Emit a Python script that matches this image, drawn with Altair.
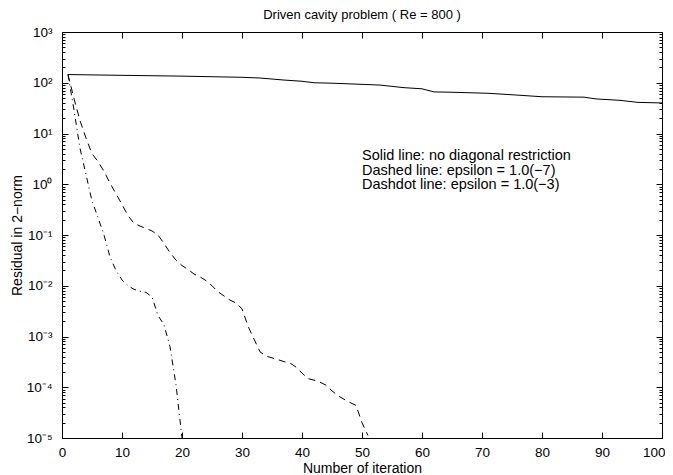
import altair as alt
import pandas as pd

# ---------------- data ----------------
iter_solid = [1, 10, 20, 30, 33, 37, 40, 42, 45, 50, 53, 57, 60, 62, 65, 71, 75, 80, 87, 89, 93, 96, 100]
res_solid = [145, 140, 135, 128, 124, 113, 107, 100, 98, 93, 90, 80, 76, 66, 65, 62, 58, 53, 52, 48, 45, 41, 40]

iter_dashed = list(range(1, 52))
res_dashed = [145, 49, 18, 8.1, 4.0, 2.8, 1.8, 1.05, 0.65, 0.40,
              0.24, 0.17, 0.15, 0.135, 0.12, 0.10, 0.068, 0.045, 0.032, 0.025,
              0.021, 0.017, 0.015, 0.0126, 0.010, 0.0076, 0.0063, 0.0052, 0.0046, 0.0035,
              0.0016, 0.00089, 0.0005, 0.00041, 0.00038, 0.00035, 0.00032, 0.00030, 0.00025, 0.00019,
              0.000148, 0.000138, 0.000126, 0.00011, 0.000085, 0.000068, 0.000058, 0.00005, 0.000044, 0.00002,
              0.0000112]

iter_dashdot = list(range(1, 21))
res_dashdot = [145, 29, 5.1, 1.55, 0.47, 0.22, 0.10, 0.037, 0.020, 0.013,
               0.010, 0.0085, 0.0078, 0.0074, 0.006, 0.0026, 0.0017, 0.00063, 0.000112, 0.00001]

x_ticks = [0, 10, 20, 30, 40, 50, 60, 70, 80, 90, 100]
y_major = [1e-5, 1e-4, 1e-3, 1e-2, 1e-1, 1, 10, 100, 1000]
y_minor = [k * m for m in [1e-5, 1e-4, 1e-3, 1e-2, 1e-1, 1, 10, 100] for k in range(2, 10)]

ann_x = [50]
ann_y = [3.0]
ann_lines = ["Solid line: no diagonal restriction",
             "Dashed line: epsilon = 1.0(\u22127)",
             "Dashdot line: epsilon = 1.0(\u22123)"]

title_text = "Driven cavity problem ( Re = 800 )"
x_title = "Number of iteration"
y_title = "Residual in 2\u2212norm"

# ---------------- chart ----------------
FONT = "Liberation Sans"
TICK_COLOR = "black"

xscale = alt.Scale(domain=[0, 100], nice=False, zero=False)
yscale = alt.Scale(type="log", domain=[1e-5, 1e3], nice=False)

is_major = "abs(log(datum.value)/LN10 - round(log(datum.value)/LN10)) < 0.001"
expo = "round(log(datum.value)/LN10)"
label_expr = (f"{is_major} ? '10' + ({expo} < 0 ? '\u207b' : '') + "
              f"['\u2070','\u00b9','\u00b2','\u00b3','\u2074','\u2075'][abs({expo})] : ''")
y_tick = alt.ExprRef(f"{is_major} ? -6 : -3")
x_tick = alt.ExprRef("-6")

left_axis = alt.Axis(orient="left", values=y_major + y_minor, labelExpr=label_expr,
                     tickSize=y_tick, tickColor=TICK_COLOR, tickWidth=1, domain=False, grid=False,
                     labelFont=FONT, labelFontSize=13.5, labelColor="black", labelPadding=16,
                     labelOverlap=False, labelFlush=False, labelBound=False,
                     title=y_title, titleFont=FONT, titleFontSize=14, titleFontWeight="normal",
                     titleColor="black", titleX=-41, titleY=203, titleAngle=270,
                     titleBaseline="alphabetic", titleAlign="center")
right_axis = alt.Axis(orient="right", values=y_major + y_minor, tickSize=y_tick,
                      tickColor=TICK_COLOR, tickWidth=1, domain=False, grid=False,
                      labels=False, title=None)
bottom_axis = alt.Axis(orient="bottom", values=x_ticks, format="d", tickSize=x_tick,
                       tickColor=TICK_COLOR, tickWidth=1, domain=False, grid=False,
                       labelFont=FONT, labelFontSize=13.5, labelColor="black", labelPadding=13,
                       labelOverlap=False, labelFlush=False,
                       labelAlign={"condition": {"test": "datum.value >= 100", "value": "right"},
                                   "value": "center"},
                       labelOffset={"condition": {"test": "datum.value >= 100", "value": 3},
                                    "value": 0},
                       title=x_title, titleFont=FONT, titleFontSize=14, titleFontWeight="normal",
                       titleColor="black", titleX=300, titleY=34, titleBaseline="alphabetic",
                       titleAlign="center")
top_axis = alt.Axis(orient="top", values=x_ticks, tickSize=x_tick, tickColor=TICK_COLOR,
                    tickWidth=1, domain=False, grid=False, labels=False, title=None)

solid = alt.Chart(pd.DataFrame({"iter": iter_solid, "res": res_solid})).mark_line(
    color="black", strokeWidth=1, clip=True
).encode(
    x=alt.X("iter:Q", scale=xscale, axis=bottom_axis),
    y=alt.Y("res:Q", scale=yscale, axis=left_axis),
)

dashed = alt.Chart(pd.DataFrame({"iter": iter_dashed, "res": res_dashed})).mark_line(
    color="black", strokeWidth=1, strokeDash=[7, 5], clip=True
).encode(
    x=alt.X("iter:Q", scale=xscale, axis=top_axis),
    y=alt.Y("res:Q", scale=yscale, axis=right_axis),
)

dashdot = alt.Chart(pd.DataFrame({"iter": iter_dashdot, "res": res_dashdot})).mark_line(
    color="black", strokeWidth=1, strokeDash=[6, 4, 1, 4], clip=True
).encode(
    x=alt.X("iter:Q", scale=xscale, axis=None),
    y=alt.Y("res:Q", scale=yscale, axis=None),
)

ann = alt.Chart(pd.DataFrame({"iter": ann_x, "res": ann_y})).mark_text(
    text=ann_lines, font=FONT, fontSize=14.5, color="black", align="left",
    baseline="alphabetic", lineHeight=14.5
).encode(
    x=alt.X("iter:Q", scale=xscale, axis=None),
    y=alt.Y("res:Q", scale=yscale, axis=None),
)

chart = alt.layer(solid, dashed, dashdot, ann).resolve_axis(
    x="independent", y="independent"
).properties(
    width=600, height=406,
    title=alt.TitleParams(title_text, font=FONT, fontSize=13, fontWeight="normal",
                          color="black", anchor="middle", offset=3),
    padding={"left": 54, "top": 24, "right": 3, "bottom": 37},
    autosize=alt.AutoSizeParams(type="none"),
    background="white",
).configure_view(stroke="black", strokeWidth=1)

chart.save("out.html", embed_options={"renderer": "svg", "actions": False})
